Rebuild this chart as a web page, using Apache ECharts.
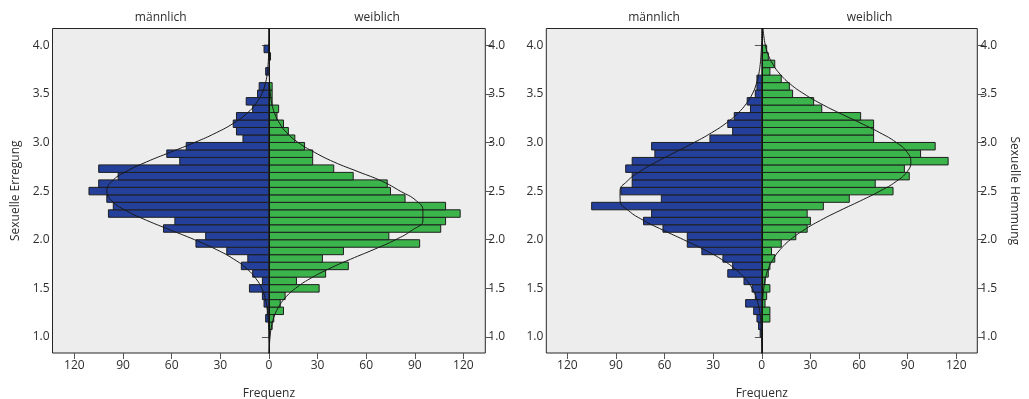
<!DOCTYPE html>
<html>
<head>
<meta charset="utf-8">
<script src="https://cdn.jsdelivr.net/npm/echarts@6/dist/echarts.min.js"></script>
<style>
html,body{margin:0;padding:0;background:#ffffff;}
#c{width:1029px;height:399px;}
</style>
</head>
<body>
<div id="c"></div>
<script>
// ---- data ----
const binStart = 1.0;
const binWidth = 1 / 13;
// counts per bin, from the lowest bin (1.0) upwards
const erregungMaennlich = [0,0,2,1,3,4,12,4,10,17,13,26,45,39,65,58,99,96,100,111,105,93,105,55,63,51,16,20,22,20,10,14,7,6,0,2,0,0,3];
const erregungWeiblich  = [0,2,3,9,7,10,31,17,35,49,33,46,93,74,106,109,118,109,84,75,73,52,40,27,27,22,16,12,9,5,6,2,2,2,0,0,0,1,0];
const hemmungMaennlich  = [1,2,3,5,10,4,6,11,21,18,24,37,46,46,61,73,68,105,62,87,80,80,84,80,66,68,32,18,21,17,7,9,4,3,3,0,0,0,0];
const hemmungWeiblich   = [0,0,5,5,2,3,5,2,4,5,8,6,12,21,28,30,28,38,54,81,70,91,88,115,98,107,69,69,69,61,37,32,19,17,12,5,8,4,3];

// fitted normal curves at these scale values
const curveY = [0.8,0.9,1.0,1.1,1.2,1.3,1.4,1.5,1.6,1.7,1.8,1.9,2.0,2.1,2.2,2.3,2.4,2.5,2.6,2.7,2.8,2.9,3.0,3.1,3.2,3.3,3.4,3.5,3.6,3.7,3.8,3.9,4.0,4.1,4.2];
const erregungKurveM = [0.0,0.0,0.1,0.2,0.5,1.1,2.3,4.4,8.0,13.5,21.6,32.5,45.8,60.7,75.5,88.2,96.9,100,96.9,88.2,75.5,60.7,45.8,32.5,21.6,13.5,8.0,4.4,2.3,1.1,0.5,0.2,0.1,0.0,0.0];
const erregungKurveW = [0.1,0.3,0.7,1.5,3.0,5.7,9.9,16.4,25.4,36.9,50.4,64.8,78.1,88.5,95,95,91,81,70,55,40,28,18,11,6.5,3.5,1.8,0.9,0.4,0.2,0.1,0.0,0.0,0.0,0.0];
const hemmungKurveM  = [0.0,0.1,0.2,0.4,0.8,1.7,3.3,6.0,10.2,16.5,25.0,35.8,48.2,61.1,73.1,82.3,87.4,87.5,83.2,75.4,65.0,53.4,41.7,31.0,21.9,14.8,9.5,5.8,3.4,1.9,1.0,0.5,0.2,0.1,0.0];
const hemmungKurveW  = [0.0,0.0,0.0,0.1,0.1,0.3,0.6,1.2,2.2,4.0,7.0,11.4,17.6,26.0,36.3,48.2,60.9,72.9,83.0,89.7,92.0,89.7,83.0,72.9,60.9,48.2,36.3,26.0,17.6,11.4,7.0,4.0,2.2,1.2,0.6];

const xTicks = [-120,-90,-60,-30,0,30,60,90,120];
const yTicks = [1.0,1.5,2.0,2.5,3.0,3.5,4.0];
const groupNames = ['männlich','weiblich'];
const scaleNames = ['Sexuelle Erregung','Sexuelle Hemmung'];
const xName = 'Frequenz';

// ---- styles / layout ----
const FONT = '"Open Sans", "Noto Sans", sans-serif';
const TXT = '#2e2e2e';
const BLUE = '#24409a';
const GREEN = '#3bb54b';
const STROKE = '#1e1e1e';
const Y_MIN = 0.8356, Y_MAX = 4.1716;
const panels = [
  {left:52.5, top:28.5, width:432.8, height:324.5, xr:133.5},
  {left:546.3, top:28.5, width:431.0, height:324.5, xr:133.0}
];

function binData(counts, sign){
  return counts.map((c,i)=>[binStart + i*binWidth, binStart + (i+1)*binWidth, sign*c]);
}
function curveData(vals, sign){
  return vals.map((v,k)=>[sign*v, curveY[k]]);
}
function barRender(color){
  return function(params, api){
    const lo = api.value(0), hi = api.value(1), v = api.value(2);
    if (!v) return null;
    const a = api.coord([0, hi]);
    const b = api.coord([v, lo]);
    const x = Math.min(a[0], b[0]);
    return {
      type:'rect',
      shape:{x:x, y:a[1], width:Math.abs(b[0]-a[0]), height:b[1]-a[1]},
      style:{fill:color, stroke:STROKE, lineWidth:1}
    };
  };
}

const grids = panels.map(p=>({
  left:p.left, top:p.top, width:p.width, height:p.height,
  show:true, backgroundColor:'#ecedec', borderColor:'#262626', borderWidth:1,
  containLabel:false, outerBoundsMode:'none'
}));

const xAxes = panels.map((p,i)=>({
  type:'value', gridIndex:i, min:-p.xr, max:p.xr,
  axisLine:{show:false},
  axisTick:{show:true, customValues:xTicks, length:6, lineStyle:{color:'#555'}},
  axisLabel:{show:true, customValues:xTicks, formatter:v=>String(Math.abs(v)), color:TXT, fontSize:12, fontFamily:FONT, margin:7},
  splitLine:{show:false},
  name:xName, nameLocation:'middle', nameGap:35,
  nameTextStyle:{color:TXT, fontSize:12, fontFamily:FONT}
}));

function yAxis(gi, pos, name, rot, gap){
  const ax = {
    type:'value', gridIndex:gi, position:pos, min:Y_MIN, max:Y_MAX,
    axisLine:{show:false},
    axisTick:{show:true, customValues:yTicks, length:7, lineStyle:{color:'#555'}},
    axisLabel:{show:true, customValues:yTicks, formatter:v=>v.toFixed(1), color:TXT, fontSize:12, fontFamily:FONT, margin:3},
    splitLine:{show:false}
  };
  if (name){
    ax.name = name; ax.nameLocation = 'middle'; ax.nameRotate = rot; ax.nameGap = gap;
    ax.nameTextStyle = {color:TXT, fontSize:12, fontFamily:FONT};
  }
  return ax;
}
const yAxes = [
  yAxis(0,'left', scaleNames[0], 90, 31),
  yAxis(0,'right', null),
  yAxis(1,'left', null),
  yAxis(1,'right', scaleNames[1], -90, 31)
];

const sets = [
  {m:erregungMaennlich, w:erregungWeiblich, cm:erregungKurveM, cw:erregungKurveW},
  {m:hemmungMaennlich, w:hemmungWeiblich, cm:hemmungKurveM, cw:hemmungKurveW}
];

const series = [];
sets.forEach((s,i)=>{
  const yi = i*2;
  series.push({type:'custom', xAxisIndex:i, yAxisIndex:yi, renderItem:barRender(BLUE), data:binData(s.m,-1), encode:{x:2, y:[0,1]}, z:2, silent:true});
  series.push({type:'custom', xAxisIndex:i, yAxisIndex:yi, renderItem:barRender(GREEN), data:binData(s.w,1), encode:{x:2, y:[0,1]}, z:2, silent:true});
  series.push({type:'line', xAxisIndex:i, yAxisIndex:yi, data:curveData(s.cm,-1), smooth:true, showSymbol:false, symbol:'none',
    lineStyle:{color:'#1a1a1a', width:1}, z:3, silent:true, clip:true,
    markLine:{silent:true, symbol:['none','none'], label:{show:false}, lineStyle:{color:'#111', width:1, type:'solid'}, data:[{xAxis:0}], animation:false}});
  series.push({type:'line', xAxisIndex:i, yAxisIndex:yi, data:curveData(s.cw,1), smooth:true, showSymbol:false, symbol:'none',
    lineStyle:{color:'#1a1a1a', width:1}, z:3, silent:true, clip:true});
});

const graphics = [];
panels.forEach(p=>{
  [0.25, 0.75].forEach((f,k)=>{
    graphics.push({type:'text', x:p.left + p.width*f, y:18,
      style:{text:groupNames[k], fill:TXT, fontSize:12, fontFamily:FONT, align:'center', verticalAlign:'middle'}});
  });
});

const chart = echarts.init(document.getElementById('c'), null, {renderer:'canvas'});
chart.setOption({
  animation:false,
  backgroundColor:'#ffffff',
  grid:grids,
  xAxis:xAxes,
  yAxis:yAxes,
  series:series,
  graphic:graphics
});
</script>
</body>
</html>
